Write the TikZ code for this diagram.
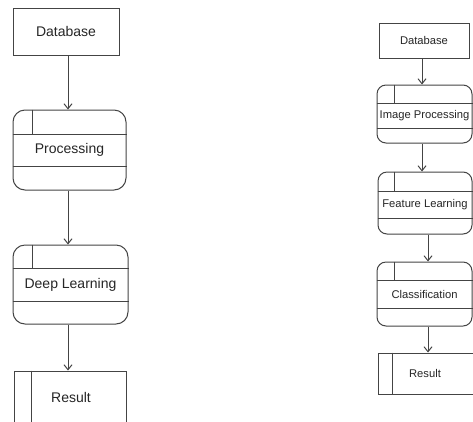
\documentclass[tikz,border=0pt]{standalone}
\usepackage{fontspec}
\setmainfont{Liberation Sans}
\usetikzlibrary{arrows.meta}

\definecolor{edge}{HTML}{444444}
\definecolor{ink}{HTML}{262626}

\tikzset{
  line/.style={draw=edge, line width=1pt},
  flowarrow/.style={line, -{Straight Barb[length=5pt,width=8pt]}},
  plainbox/.style={line, rectangle, inner sep=0pt, text=ink},
  procbox/.style={line, rectangle, inner sep=0pt},
  steptext/.style={text=ink, inner sep=0pt},
}

% Process step: rounded box with two horizontal bands and a short tab line
% #1 name, #2 cx, #3 cy, #4 width, #5 height, #6 first divider y,
% #7 second divider y, #8 tab line x, #9 label
\newcommand\procstep[9]{%
  \node[procbox, minimum width=#4pt, minimum height=#5pt] (#1) at (#2,#3) {};
  \draw[line] (#1.west |- 0,#6) -- (#1.east |- 0,#6);
  \draw[line] (#1.west |- 0,#7) -- (#1.east |- 0,#7);
  \draw[line] (#8,0 |- #1.north) -- (#8,#6);
  \node[steptext] (#1-t) at (#2,{(#6+#7)/2}) {#9};
}

\begin{document}
\begin{tikzpicture}[x=1pt, y=-1pt]
  \useasboundingbox (0,0) rectangle (473,421);
  \clip (0,0) rectangle (473,421);
  \fill[white] (0,0) rectangle (473,421);

  % ---------- left flow ----------
  \begin{scope}[font=\fontsize{14}{16}\selectfont, procbox/.append style={rounded corners=12pt}]
    \node[plainbox, minimum width=106pt, minimum height=47pt] (db1) at (66,31.5) {Database};
    \procstep{proc1}{69.5}{150}{113}{80}{134}{166}{32}{Processing}
    \procstep{deep}{70.5}{284.5}{115}{79}{268}{301}{32}{Deep Learning}
    \node[plainbox, minimum width=112pt, minimum height=58pt] (res1) at (70,400) {};
    \node[steptext] (res1-t) at (71,397) {Result};
    \draw[line] (31,0 |- res1.north) -- (31,0 |- res1.south);

    \coordinate (colL) at (68,0);
    \draw[flowarrow] (db1.south -| colL) -- (proc1.north -| colL);
    \draw[flowarrow] (proc1.south -| colL) -- (deep.north -| colL);
    \draw[flowarrow] (deep.south -| colL) -- (res1.north -| colL);
  \end{scope}

  % ---------- right flow ----------
  \begin{scope}[font=\fontsize{11.2}{13}\selectfont, procbox/.append style={rounded corners=9pt}]
    \node[plainbox, minimum width=90pt, minimum height=35pt] (db2) at (424,40.5) {Database};
    \procstep{imgp}{424.5}{114}{95}{58}{103}{128}{394}{Image Processing}
    \procstep{feat}{425}{203}{94}{62}{191}{218}{394}{Feature Learning}
    \procstep{clas}{424.5}{294}{95}{64}{280}{308}{394}{Classification}
    \node[plainbox, minimum width=104pt, minimum height=41pt] (res2) at (430,373.5) {};
    \node[steptext] (res2-t) at (425,373) {Result};
    \draw[line] (392,0 |- res2.north) -- (392,0 |- res2.south);

    \coordinate (colA) at (422,0);
    \coordinate (colB) at (428,0);
    \draw[flowarrow] (db2.south -| colA) -- (imgp.north -| colA);
    \draw[flowarrow] (imgp.south -| colA) -- (feat.north -| colA);
    \draw[flowarrow] (feat.south -| colB) -- (clas.north -| colB);
    \draw[flowarrow] (clas.south -| colB) -- (res2.north -| colB);
  \end{scope}
\end{tikzpicture}
\end{document}
